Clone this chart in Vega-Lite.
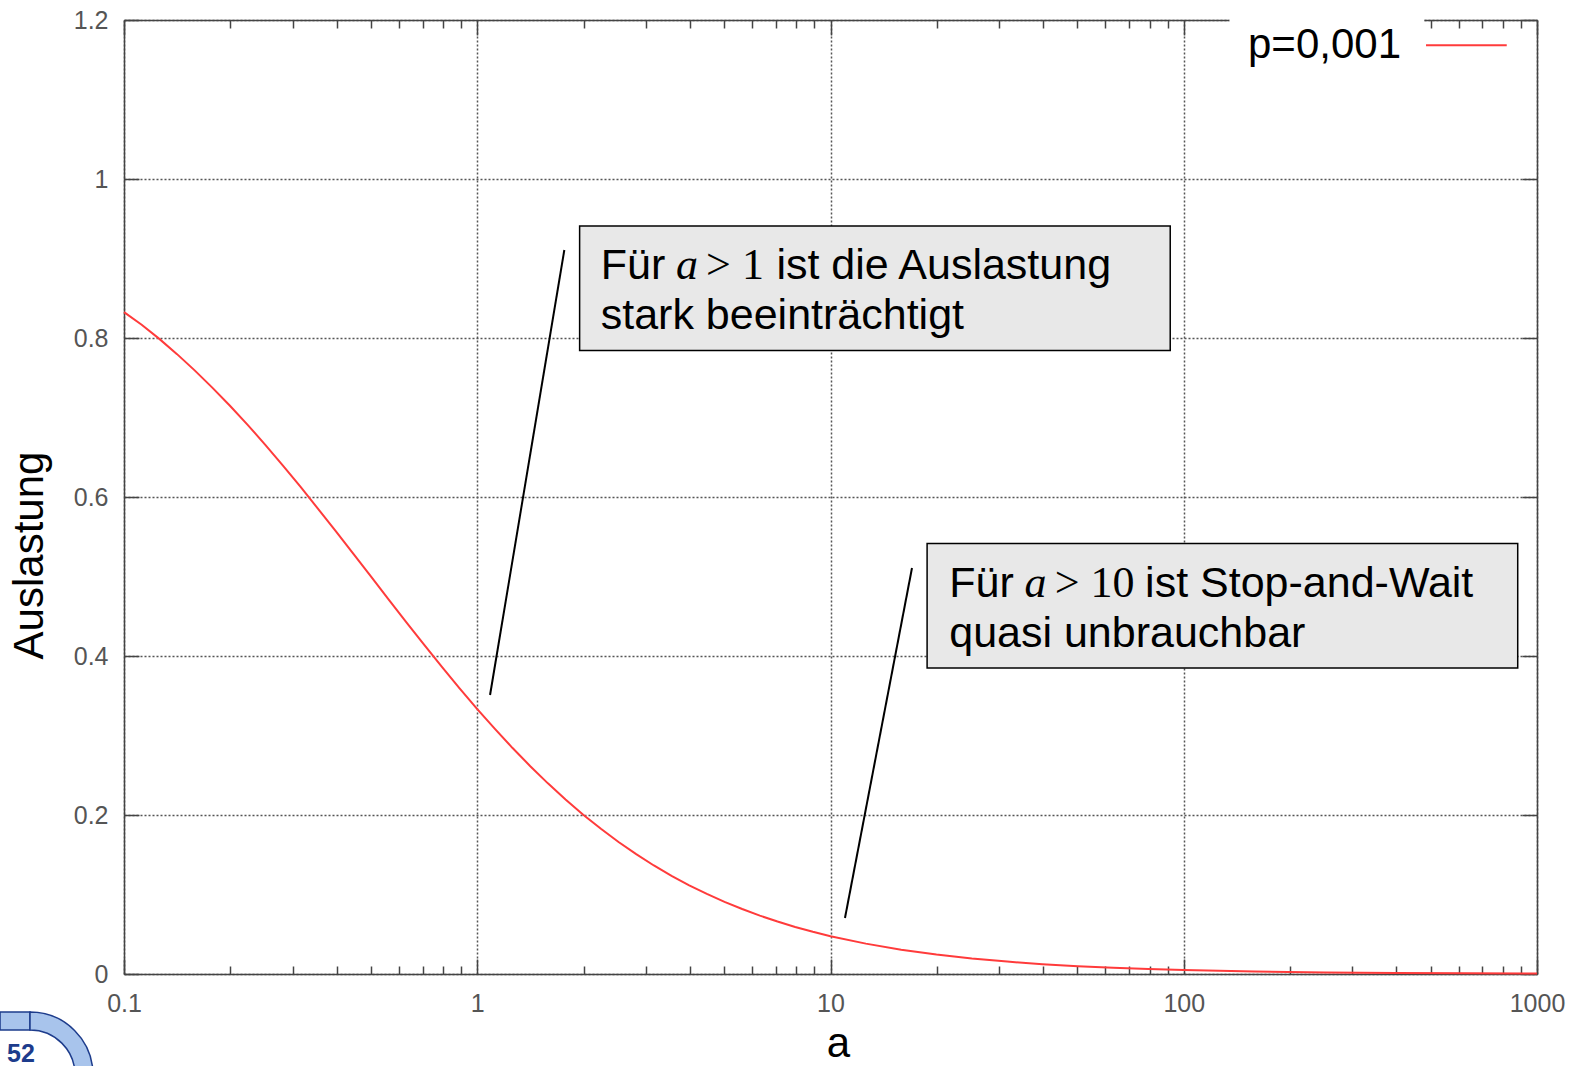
{
  "$schema": "https://vega.github.io/schema/vega-lite/v6.json",
  "width": 1413,
  "height": 954,
  "autosize": {"type": "none"},
  "padding": {"left": 124, "top": 20, "right": 38, "bottom": 92},
  "background": "white",
  "config": {"view": {"stroke": null}, "font": "Liberation Sans"},
  "datasets": {
    "curve": [
      {"a": 0.1, "u": 0.8325}, {"a": 0.1122, "u": 0.8167}, {"a": 0.1259, "u": 0.7989}, {"a": 0.1413, "u": 0.7797},
      {"a": 0.1585, "u": 0.7593}, {"a": 0.1778, "u": 0.7376}, {"a": 0.1995, "u": 0.7148}, {"a": 0.2239, "u": 0.6907},
      {"a": 0.2512, "u": 0.6656}, {"a": 0.2818, "u": 0.6395}, {"a": 0.3162, "u": 0.6126}, {"a": 0.3548, "u": 0.5849},
      {"a": 0.3981, "u": 0.5567}, {"a": 0.4467, "u": 0.5281}, {"a": 0.5012, "u": 0.4994}, {"a": 0.5623, "u": 0.4707},
      {"a": 0.631, "u": 0.4421}, {"a": 0.7079, "u": 0.4139}, {"a": 0.7943, "u": 0.3863}, {"a": 0.8913, "u": 0.3594},
      {"a": 1, "u": 0.3333}, {"a": 1.122, "u": 0.3083}, {"a": 1.259, "u": 0.2842}, {"a": 1.413, "u": 0.2614},
      {"a": 1.585, "u": 0.2398}, {"a": 1.778, "u": 0.2195}, {"a": 1.995, "u": 0.2004}, {"a": 2.239, "u": 0.1826},
      {"a": 2.512, "u": 0.166}, {"a": 2.818, "u": 0.1507}, {"a": 3.162, "u": 0.1365}, {"a": 3.548, "u": 0.1235},
      {"a": 3.981, "u": 0.1116}, {"a": 4.467, "u": 0.1007}, {"a": 5.012, "u": 0.0907}, {"a": 5.623, "u": 0.0817},
      {"a": 6.31, "u": 0.0734}, {"a": 7.079, "u": 0.066}, {"a": 7.943, "u": 0.0592}, {"a": 8.913, "u": 0.0531},
      {"a": 10, "u": 0.0476}, {"a": 12.59, "u": 0.0382}, {"a": 15.85, "u": 0.0306}, {"a": 19.95, "u": 0.0244},
      {"a": 25.12, "u": 0.0195}, {"a": 31.62, "u": 0.0156}, {"a": 39.81, "u": 0.0124}, {"a": 50.12, "u": 0.0099},
      {"a": 63.1, "u": 0.0079}, {"a": 79.43, "u": 0.0063}, {"a": 100, "u": 0.005}, {"a": 158.5, "u": 0.0032},
      {"a": 251.2, "u": 0.002}, {"a": 398.1, "u": 0.0013}, {"a": 631, "u": 0.0008}, {"a": 1000, "u": 0.0005}
    ],
    "boxes": [
      {"x1": 1.949, "x2": 91.56, "y1": 0.9409, "y2": 0.7842},
      {"x1": 18.77, "x2": 881.9, "y1": 0.5416, "y2": 0.3849}
    ],
    "pointers": [
      {"x1": 1.764, "y1": 0.9107, "x2": 1.087, "y2": 0.3509},
      {"x1": 17.01, "y1": 0.5107, "x2": 10.99, "y2": 0.0704}
    ],
    "sans": [
      {"x": 2.236, "y": 0.874, "label": "Für"},
      {"x": 7.028, "y": 0.874, "label": "ist die Auslastung"},
      {"x": 2.236, "y": 0.8107, "label": "stark beeinträchtigt"},
      {"x": 21.68, "y": 0.4747, "label": "Für"},
      {"x": 77.73, "y": 0.4747, "label": "ist Stop-and-Wait"},
      {"x": 21.68, "y": 0.4114, "label": "quasi unbrauchbar"}
    ],
    "mathvar": [
      {"x": 3.652, "y": 0.874, "label": "a"},
      {"x": 35.44, "y": 0.4747, "label": "a"}
    ],
    "mathrel": [
      {"x": 4.445, "y": 0.874, "label": "> 1"},
      {"x": 43.13, "y": 0.4747, "label": "> 10"}
    ],
    "legendbg": [{"x1": 134.7, "x2": 479.7, "y1": 1.2189, "y2": 1.1434}],
    "legend": [{"x": 412.1, "y": 1.1683, "x1": 485.1, "x2": 821.0, "label": "p=0,001"}],
    "logo": [{"x": 0.05419, "y": -0.127, "bx1": 0.04457, "bx2": 0.05419, "by1": -0.0478, "by2": -0.0704, "tx": 0.05109, "ty": -0.1006, "label": "52"}]
  },
  "resolve": {"axis": {"x": "independent", "y": "independent"}},
  "layer": [
    {
      "data": {"name": "curve"},
      "mark": {"type": "line", "color": "#ff3b3b", "strokeWidth": 2},
      "encoding": {
        "x": {
          "field": "a", "type": "quantitative",
          "scale": {"type": "log", "domain": [0.1, 1000]},
          "axis": {
            "orient": "bottom", "values": [0.1, 1, 10, 100, 1000], "format": "~g",
            "ticks": false, "grid": true, "gridDash": [2, 2], "gridColor": "#555", "gridWidth": 1.5,
            "domainColor": "#444", "domainWidth": 1.5,
            "labelColor": "#555", "labelFontSize": 25, "labelPadding": 17, "labelFlush": false,
            "labelBaseline": "top",
            "title": "a", "titleFontSize": 42, "titleFontWeight": "normal", "titleColor": "black",
            "titleX": 714, "titleY": 82, "titleBaseline": "alphabetic", "titleAlign": "center"
          }
        },
        "y": {
          "field": "u", "type": "quantitative",
          "scale": {"domain": [0, 1.2], "nice": false, "zero": false},
          "axis": {
            "orient": "left", "values": [0, 0.2, 0.4, 0.6, 0.8, 1, 1.2], "format": "~g",
            "ticks": false, "grid": true, "gridDash": [2, 2], "gridColor": "#555", "gridWidth": 1.5,
            "domainColor": "#444", "domainWidth": 1.5,
            "labelColor": "#555", "labelFontSize": 25, "labelPadding": 16, "labelBaseline": "middle",
            "title": "Auslastung", "titleFontSize": 42, "titleFontWeight": "normal", "titleColor": "black",
            "titleAngle": 270, "titleX": -82, "titleY": 535, "titleBaseline": "alphabetic", "titleAlign": "center"
          }
        }
      }
    },
    {
      "data": {"name": "boxes"},
      "mark": {"type": "rect", "fill": "#e8e8e8", "stroke": "black", "strokeWidth": 1.5},
      "encoding": {
        "x": {
          "field": "x1", "type": "quantitative",
          "scale": {"type": "log", "domain": [0.1, 1000]},
          "axis": {
            "orient": "bottom",
            "values": [0.1, 0.2, 0.3, 0.4, 0.5, 0.6, 0.7, 0.8, 0.9, 1, 2, 3, 4, 5, 6, 7, 8, 9, 10, 20, 30, 40, 50, 60, 70, 80, 90, 100, 200, 300, 400, 500, 600, 700, 800, 900, 1000],
            "labels": false, "grid": false, "domain": false, "title": null,
            "tickColor": "#444", "tickWidth": 1.5,
            "tickSize": {"condition": {"test": "datum.value == 0.1 || datum.value == 1 || datum.value == 10 || datum.value == 100 || datum.value == 1000", "value": -15}, "value": -8}
          }
        },
        "x2": {"field": "x2"},
        "y": {
          "field": "y1", "type": "quantitative",
          "scale": {"domain": [0, 1.2], "nice": false, "zero": false},
          "axis": {
            "orient": "left", "values": [0, 0.2, 0.4, 0.6, 0.8, 1, 1.2],
            "labels": false, "grid": false, "domain": false, "title": null,
            "tickColor": "#444", "tickWidth": 1.5, "tickSize": -15
          }
        },
        "y2": {"field": "y2"}
      }
    },
    {
      "data": {"name": "pointers"},
      "mark": {"type": "rule", "color": "black", "strokeWidth": 2},
      "encoding": {
        "x": {
          "field": "x1", "type": "quantitative",
          "scale": {"type": "log", "domain": [0.1, 1000]},
          "axis": {
            "orient": "top",
            "values": [0.1, 0.2, 0.3, 0.4, 0.5, 0.6, 0.7, 0.8, 0.9, 1, 2, 3, 4, 5, 6, 7, 8, 9, 10, 20, 30, 40, 50, 60, 70, 80, 90, 100, 200, 300, 400, 500, 600, 700, 800, 900, 1000],
            "labels": false, "grid": false, "domain": true, "title": null,
            "domainColor": "#444", "domainWidth": 1.5,
            "tickColor": "#444", "tickWidth": 1.5,
            "tickSize": {"condition": {"test": "datum.value == 0.1 || datum.value == 1 || datum.value == 10 || datum.value == 100 || datum.value == 1000", "value": -15}, "value": -8}
          }
        },
        "x2": {"field": "x2"},
        "y": {
          "field": "y1", "type": "quantitative",
          "scale": {"domain": [0, 1.2], "nice": false, "zero": false},
          "axis": {
            "orient": "right", "values": [0, 0.2, 0.4, 0.6, 0.8, 1, 1.2],
            "labels": false, "grid": false, "domain": true, "title": null,
            "domainColor": "#444", "domainWidth": 1.5,
            "tickColor": "#444", "tickWidth": 1.5, "tickSize": -15
          }
        },
        "y2": {"field": "y2"}
      }
    },
    {
      "data": {"name": "sans"},
      "mark": {"type": "text", "align": "left", "baseline": "alphabetic", "fontSize": 43, "color": "black", "font": "Liberation Sans"},
      "encoding": {
        "x": {"field": "x", "type": "quantitative", "scale": {"type": "log", "domain": [0.1, 1000]}, "axis": null},
        "y": {"field": "y", "type": "quantitative", "scale": {"domain": [0, 1.2], "nice": false, "zero": false}, "axis": null},
        "text": {"field": "label"}
      }
    },
    {
      "data": {"name": "mathvar"},
      "mark": {"type": "text", "align": "left", "baseline": "alphabetic", "fontSize": 44, "fontStyle": "italic", "color": "black", "font": "Liberation Serif"},
      "encoding": {
        "x": {"field": "x", "type": "quantitative", "scale": {"type": "log", "domain": [0.1, 1000]}, "axis": null},
        "y": {"field": "y", "type": "quantitative", "scale": {"domain": [0, 1.2], "nice": false, "zero": false}, "axis": null},
        "text": {"field": "label"}
      }
    },
    {
      "data": {"name": "mathrel"},
      "mark": {"type": "text", "align": "left", "baseline": "alphabetic", "fontSize": 44, "color": "black", "font": "Liberation Serif"},
      "encoding": {
        "x": {"field": "x", "type": "quantitative", "scale": {"type": "log", "domain": [0.1, 1000]}, "axis": null},
        "y": {"field": "y", "type": "quantitative", "scale": {"domain": [0, 1.2], "nice": false, "zero": false}, "axis": null},
        "text": {"field": "label"}
      }
    },
    {
      "data": {"name": "legendbg"},
      "mark": {"type": "rect", "fill": "white", "stroke": null},
      "encoding": {
        "x": {"field": "x1", "type": "quantitative", "scale": {"type": "log", "domain": [0.1, 1000]}, "axis": null},
        "x2": {"field": "x2"},
        "y": {"field": "y1", "type": "quantitative", "scale": {"domain": [0, 1.2], "nice": false, "zero": false}, "axis": null},
        "y2": {"field": "y2"}
      }
    },
    {
      "data": {"name": "legend"},
      "mark": {"type": "text", "align": "right", "baseline": "middle", "fontSize": 42, "color": "black", "font": "Liberation Sans"},
      "encoding": {
        "x": {"field": "x", "type": "quantitative", "scale": {"type": "log", "domain": [0.1, 1000]}, "axis": null},
        "y": {"field": "y", "type": "quantitative", "scale": {"domain": [0, 1.2], "nice": false, "zero": false}, "axis": null},
        "text": {"field": "label"}
      }
    },
    {
      "data": {"name": "legend"},
      "mark": {"type": "rule", "color": "#ff3b3b", "strokeWidth": 2},
      "encoding": {
        "x": {"field": "x1", "type": "quantitative", "scale": {"type": "log", "domain": [0.1, 1000]}, "axis": null},
        "x2": {"field": "x2"},
        "y": {"field": "y", "type": "quantitative", "scale": {"domain": [0, 1.2], "nice": false, "zero": false}, "axis": null}
      }
    },
    {
      "data": {"name": "logo"},
      "mark": {"type": "rect", "fill": "#a8c4ec", "stroke": "#1d3c8c", "strokeWidth": 1.5},
      "encoding": {
        "x": {"field": "bx1", "type": "quantitative", "scale": {"type": "log", "domain": [0.1, 1000]}, "axis": null},
        "x2": {"field": "bx2"},
        "y": {"field": "by1", "type": "quantitative", "scale": {"domain": [0, 1.2], "nice": false, "zero": false}, "axis": null},
        "y2": {"field": "by2"}
      }
    },
    {
      "data": {"name": "logo"},
      "mark": {"type": "arc", "theta": 0, "theta2": 1.5708, "innerRadius": 45, "outerRadius": 63, "fill": "#a8c4ec", "stroke": "#1d3c8c", "strokeWidth": 1.5},
      "encoding": {
        "x": {"field": "x", "type": "quantitative", "scale": {"type": "log", "domain": [0.1, 1000]}, "axis": null},
        "y": {"field": "y", "type": "quantitative", "scale": {"domain": [0, 1.2], "nice": false, "zero": false}, "axis": null}
      }
    },
    {
      "data": {"name": "logo"},
      "mark": {"type": "text", "align": "center", "baseline": "middle", "fontSize": 25, "fontWeight": "bold", "color": "#1d3c8c", "font": "Liberation Sans"},
      "encoding": {
        "x": {"field": "tx", "type": "quantitative", "scale": {"type": "log", "domain": [0.1, 1000]}, "axis": null},
        "y": {"field": "ty", "type": "quantitative", "scale": {"domain": [0, 1.2], "nice": false, "zero": false}, "axis": null},
        "text": {"field": "label"}
      }
    }
  ]
}
